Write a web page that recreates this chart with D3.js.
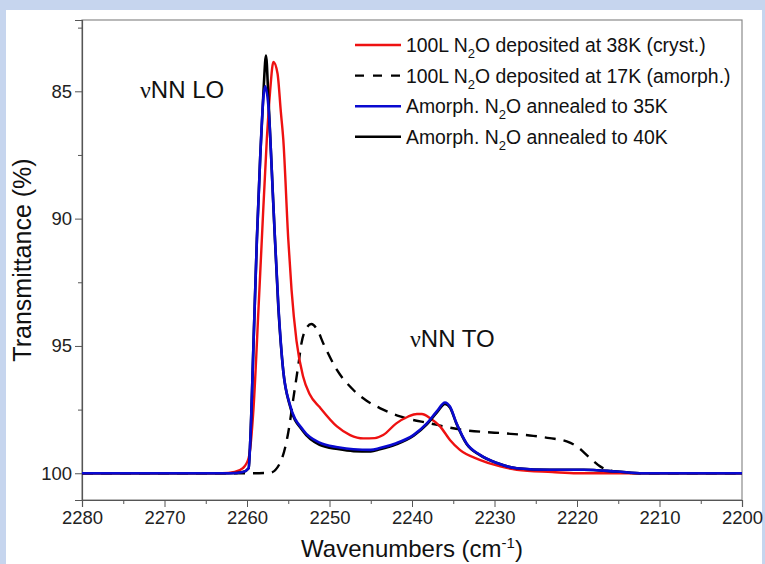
<!DOCTYPE html>
<html><head><meta charset="utf-8">
<script src="https://cdn.jsdelivr.net/npm/d3@7"></script>
<style>
html,body{margin:0;padding:0;background:#c6d5ee;}
svg{display:block;font-family:"Liberation Sans",Arial,sans-serif;}
</style></head><body>
<svg id="c" width="765" height="564"></svg>
<script>
// Data (wavenumber cm-1, transmittance %)
const crystWn = [2280,2270,2263,2261.5,2260.5,2259.8,2259.2,2258.6,2258.2,2257.6,2257.2,2256.8,2256.3,2255.9,2255.6,2255.0,2254.6,2254.0,2253.2,2252.4,2251.2,2249.1,2247.5,2245.9,2244.5,2243.5,2241.9,2240.5,2239.4,2238.8,2237.8,2236.6,2235.4,2234.2,2231.8,2229.3,2227.3,2223,2220,2210,2200];
const crystT  = [100,100,100,99.95,99.8,99.4,97.4,93.5,90.8,86.9,85.0,83.85,84.3,85.8,86.9,90.8,92.8,94.8,96.2,96.9,97.4,98.16,98.5,98.63,98.62,98.5,98.04,97.78,97.67,97.67,97.84,98.16,98.69,99.08,99.47,99.73,99.86,99.95,100,100,100];

const amorphWn = [2280,2260,2257.2,2256.0,2255.0,2254.4,2253.8,2253.4,2252.8,2252.2,2251.5,2250.75,2249.1,2247.1,2245.5,2243.9,2241.45,2237.8,2233.8,2229.3,2225.3,2223.3,2221.25,2220.0,2218.4,2217.2,2215.6,2213,2200];
const amorphT  = [100,100,99.98,99.6,98.4,97.1,95.8,94.9,94.3,94.14,94.35,94.9,95.94,96.73,97.15,97.44,97.77,98.04,98.3,98.42,98.53,98.62,98.75,98.95,99.41,99.73,99.92,100,100];

const ann35Wn = [2280,2270,2262,2260.5,2259.8,2259.6,2259.2,2258.8,2258.4,2258.0,2257.8,2257.4,2256.8,2256.2,2255.6,2254.8,2253.2,2251.2,2249,2247.1,2245,2243.9,2241.9,2239.8,2238.2,2237.0,2236.0,2235.4,2234.6,2233.4,2231.8,2229.7,2227.3,2223.3,2219.2,2215.2,2212,2200];
const ann35T  = [100,100,100,99.95,99.8,98.7,94.8,90.8,87.6,85.2,84.8,85.6,89.5,93.4,96.0,97.3,98.3,98.8,98.98,99.06,99.08,99.01,98.82,98.49,98.04,97.57,97.22,97.38,98.04,98.82,99.27,99.6,99.8,99.86,99.86,99.93,100,100];

const ann40Wn = [2280,2270,2262,2260.5,2259.8,2259.6,2259.2,2258.8,2258.4,2258.0,2257.7,2257.4,2256.8,2256.2,2255.6,2254.8,2253.2,2251.2,2249,2247.1,2245,2243.9,2241.9,2239.8,2238.2,2237.0,2236.0,2235.4,2234.6,2233.4,2231.8,2229.7,2227.3,2223.3,2219.2,2215.2,2212,2200];
const ann40T  = [100,100,100,99.95,99.8,98.7,94.8,90.8,87.6,85.0,83.6,85.3,89.5,93.5,96.0,97.35,98.35,98.88,99.05,99.13,99.14,99.06,98.86,98.52,98.08,97.62,97.28,97.42,98.06,98.84,99.28,99.6,99.8,99.86,99.86,99.93,100,100];

const xTicks = [2280,2270,2260,2250,2240,2230,2220,2210,2200];
const xMinor = [2275,2265,2255,2245,2235,2225,2215,2205];
const yTicks = [85,90,95,100];
const yMinor = [82.5,87.5,92.5,97.5];

const legendLabels = [
  {pre:"100L N", post:"O deposited at 38K (cryst.)"},
  {pre:"100L N", post:"O deposited at 17K (amorph.)"},
  {pre:"Amorph. N", post:"O annealed to 35K"},
  {pre:"Amorph. N", post:"O annealed to 40K"}
];

const svg = d3.select("#c");
svg.append("rect").attr("x",0).attr("y",0).attr("width",765).attr("height",564).attr("fill","#c6d5ee");
svg.append("rect").attr("x",6).attr("y",10).attr("width",756).attr("height",554).attr("fill","#ffffff");

const L=82, R=742, T=20, B=500;
const x = d3.scaleLinear().domain([2280,2200]).range([L,R]);
const y = d3.scaleLinear().domain([82.2,101.05]).range([T,B]);

svg.append("rect").attr("x",L).attr("y",T).attr("width",R-L).attr("height",B-T)
  .attr("fill","none").attr("stroke","#8a8a8a").attr("stroke-width",1.2);

svg.append("g").attr("transform",`translate(0,${B})`)
  .call(d3.axisBottom(x).tickValues(xTicks).tickSize(7).tickPadding(4).tickFormat(d3.format("d")));
svg.append("g").attr("transform",`translate(0,${B})`)
  .call(d3.axisBottom(x).tickValues(xMinor).tickSize(4).tickFormat(""))
  .call(g=>g.select(".domain").remove());
svg.append("g").attr("transform",`translate(${L},0)`)
  .call(d3.axisLeft(y).tickValues(yTicks).tickSize(7).tickPadding(3).tickFormat(d3.format("d")));
svg.append("g").attr("transform",`translate(${L},0)`)
  .call(d3.axisLeft(y).tickValues(yMinor).tickSize(4).tickFormat(""))
  .call(g=>g.select(".domain").remove());
svg.selectAll(".domain").attr("stroke","#555").attr("stroke-width",1.2);
svg.selectAll(".tick line").attr("stroke","#555");
svg.selectAll(".tick text").attr("font-size",18.5).attr("fill","#222").attr("font-family","Liberation Sans, Arial, sans-serif");

svg.append("text").attr("x",412).attr("y",557).attr("text-anchor","middle")
  .attr("font-size",24).attr("fill","#111")
  .html('Wavenumbers (cm<tspan dy="-9" font-size="15">-1</tspan><tspan dy="9">)</tspan>');
svg.append("text").attr("transform","translate(31,260) rotate(-90)").attr("text-anchor","middle")
  .attr("font-size",25).attr("fill","#111").text("Transmittance (%)");

const line = d3.line().x(d=>x(d[0])).y(d=>y(d[1])).curve(d3.curveMonotoneX);
const zip = (a,b)=>a.map((v,i)=>[v,b[i]]);
const series = [
  {wn:amorphWn, t:amorphT, color:"#000", dash:"11,8", w:2.4},
  {wn:crystWn, t:crystT, color:"#ee1111", dash:null, w:2.4},
  {wn:ann40Wn, t:ann40T, color:"#000", dash:null, w:2.6},
  {wn:ann35Wn, t:ann35T, color:"#0a0ad0", dash:null, w:2.6}
];
series.forEach(s=>{
  svg.append("path").datum(zip(s.wn,s.t)).attr("d",line)
    .attr("fill","none").attr("stroke",s.color).attr("stroke-width",s.w)
    .attr("stroke-dasharray",s.dash).attr("stroke-linejoin","round");
});

svg.append("text").attr("x",140).attr("y",98).attr("font-size",24).attr("fill","#111")
  .html('<tspan font-family="Liberation Serif, DejaVu Serif, serif">\u03BD</tspan>NN LO');
svg.append("text").attr("x",410).attr("y",347).attr("font-size",24).attr("fill","#111")
  .html('<tspan font-family="Liberation Serif, DejaVu Serif, serif">\u03BD</tspan>NN TO');

const legColors = [["#ee1111",null],["#000","9,9"],["#0a0ad0",null],["#000",null]];
legendLabels.forEach((lab,i)=>{
  const yy = 45 + i*30.6;
  svg.append("line").attr("x1",355).attr("x2",401).attr("y1",yy).attr("y2",yy)
    .attr("stroke",legColors[i][0]).attr("stroke-width",2.4).attr("stroke-dasharray",legColors[i][1]);
  svg.append("text").attr("x",406).attr("y",yy+7).attr("font-size",19.4).attr("fill","#111")
    .html(`${lab.pre}<tspan dy="6" font-size="13">2</tspan><tspan dy="-6">${lab.post}</tspan>`);
});
</script>
</body></html>
